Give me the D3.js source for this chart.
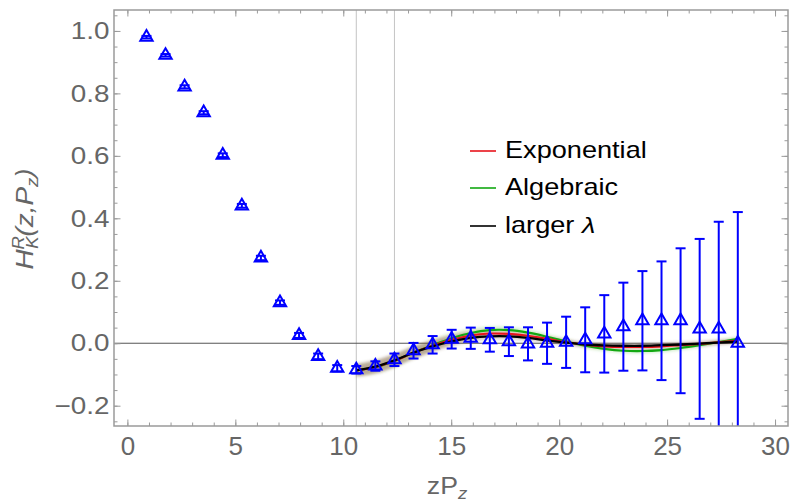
<!DOCTYPE html>
<html>
<head>
<meta charset="utf-8">
<script src="https://cdn.jsdelivr.net/npm/d3@7"></script>
<style>
  html, body { margin: 0; padding: 0; background: #fff; }
  svg { display: block; font-family: "Liberation Sans", Arial, sans-serif; }
</style>
</head>
<body>
<svg id="chart" width="792" height="502"></svg>
<script>
// Lattice points: zP_z for z = 1..32
const zp = [0.884, 1.767, 2.651, 3.534, 4.418, 5.302, 6.185, 7.069, 7.952, 8.836,
            9.720, 10.603, 11.487, 12.370, 13.254, 14.138, 15.021, 15.905, 16.788, 17.672,
            18.556, 19.439, 20.323, 21.206, 22.090, 22.974, 23.857, 24.741, 25.624, 26.508,
            27.392, 28.275];
const hVal = [0.980, 0.922, 0.821, 0.738, 0.602, 0.440, 0.273, 0.130, 0.025, -0.042,
              -0.080, -0.085, -0.073, -0.053, -0.024, -0.005, 0.013, 0.016, 0.011, 0.005,
              -0.002, 0.000, 0.003, 0.011, 0.030, 0.053, 0.072, 0.072, 0.072, 0.046,
              0.046, 0.000];
const hErr = [0.004, 0.004, 0.005, 0.005, 0.006, 0.006, 0.007, 0.007, 0.008, 0.009,
              0.010, 0.012, 0.015, 0.020, 0.025, 0.028, 0.030, 0.034, 0.038, 0.046,
              0.053, 0.066, 0.082, 0.104, 0.124, 0.141, 0.159, 0.190, 0.232, 0.288,
              0.343, 0.420];

// Extrapolated curves, sampled on the lattice points from z = 12 on
const fitX = zp.slice(11);
const expCurve = [-0.087, -0.076, -0.056, -0.030, -0.008, 0.011, 0.025, 0.031, 0.030, 0.024,
                  0.014, 0.003, -0.005, -0.010, -0.012, -0.012, -0.010, -0.006, -0.002, 0.003, 0.008];
const algCurve = [-0.087, -0.077, -0.057, -0.030, -0.006, 0.016, 0.033, 0.042, 0.042, 0.034,
                  0.021, 0.006, -0.008, -0.018, -0.024, -0.025, -0.022, -0.015, -0.006, 0.004, 0.014];
const lamCurve = [-0.087, -0.075, -0.055, -0.030, -0.010, 0.006, 0.017, 0.022, 0.022, 0.017,
                  0.009, 0.002, -0.004, -0.007, -0.008, -0.008, -0.006, -0.004, -0.001, 0.002, 0.005];
const bandHalf = [0.020, 0.021, 0.021, 0.020, 0.019, 0.016, 0.013, 0.011, 0.010, 0.009,
                  0.008, 0.008, 0.007, 0.007, 0.007, 0.007, 0.007, 0.007, 0.007, 0.007, 0.007];

// Fit-window boundaries
const windowLines = [10.603, 12.370];

const xMajor = [0, 5, 10, 15, 20, 25, 30];
const xMinor = d3.range(0, 31, 1);
const yMajor = [-0.2, 0, 0.2, 0.4, 0.6, 0.8, 1.0];
const yMinor = d3.range(-0.25, 1.051, 0.05).map(v => +v.toFixed(2));

const legendNames = ["Exponential", "Algebraic", "larger λ"];
const legendColors = ["#e8141c", "#12a812", "#000000"];

const plot = { left: 114, top: 10, right: 788, bottom: 426 };
const textStretch = 1.16;

const svg = d3.select("#chart");
const x = d3.scaleLinear().domain([-0.62, 30.6]).range([plot.left, plot.right]);
const y = d3.scaleLinear().domain([-0.265, 1.067]).range([plot.bottom, plot.top]);

const defs = svg.append("defs");
defs.append("clipPath").attr("id", "clip")
  .append("rect").attr("x", plot.left).attr("y", plot.top)
  .attr("width", plot.right - plot.left).attr("height", plot.bottom - plot.top);
defs.append("filter").attr("id", "soft").attr("x", "-5%").attr("y", "-50%")
  .attr("width", "110%").attr("height", "200%")
  .append("feGaussianBlur").attr("stdDeviation", 1.5);

const gPlot = svg.append("g").attr("clip-path", "url(#clip)");

// window lines
gPlot.selectAll("line.win").data(windowLines).join("line")
  .attr("x1", d => x(d)).attr("x2", d => x(d))
  .attr("y1", plot.top).attr("y2", plot.bottom)
  .attr("stroke", "#c4c4c4").attr("stroke-width", 1);

// zero line
gPlot.append("line")
  .attr("x1", plot.left).attr("x2", plot.right)
  .attr("y1", y(0)).attr("y2", y(0))
  .attr("stroke", "#555").attr("stroke-width", 1);

// bands
const curves = [
  { vals: algCurve, color: legendColors[1], op: 0.2 },
  { vals: expCurve, color: legendColors[0], op: 0.2 },
  { vals: lamCurve, color: "#6b6b55", op: 0.28 }
];
const band = d3.area().curve(d3.curveCatmullRom)
  .x((d, i) => x(fitX[i]))
  .y0(d => y(d.v - d.h)).y1(d => y(d.v + d.h));
const gBand = gPlot.append("g").attr("filter", "url(#soft)");
curves.forEach(c => {
  gBand.append("path")
    .datum(c.vals.map((v, i) => ({ v, h: bandHalf[i] })))
    .attr("d", band)
    .attr("fill", c.color).attr("fill-opacity", c.op);
});

const line = d3.line().curve(d3.curveCatmullRom)
  .x((d, i) => x(fitX[i])).y(d => y(d));
[algCurve, expCurve, lamCurve].forEach((vals, k) => {
  const color = [legendColors[1], legendColors[0], legendColors[2]][k];
  gPlot.append("path").datum(vals).attr("d", line)
    .attr("fill", "none").attr("stroke", color)
    .attr("stroke-width", k === 2 ? 2.3 : 2.1);
});

// data with error bars
const pts = zp.map((d, i) => ({ x: d, v: hVal[i], e: hErr[i] }));
const gPts = gPlot.append("g").attr("stroke", "#0000ff").attr("stroke-width", 2).attr("fill", "none");
const cap = 5;
pts.forEach(p => {
  const cx = x(p.x), yl = y(p.v - p.e), yh = y(p.v + p.e);
  gPts.append("line").attr("x1", cx).attr("x2", cx).attr("y1", yl).attr("y2", yh);
  gPts.append("line").attr("x1", cx - cap).attr("x2", cx + cap).attr("y1", yl).attr("y2", yl);
  gPts.append("line").attr("x1", cx - cap).attr("x2", cx + cap).attr("y1", yh).attr("y2", yh);
});
const tri = d3.symbol().type(d3.symbolTriangle).size(66);
gPts.selectAll("path.tri").data(pts).join("path")
  .attr("class", "tri")
  .attr("transform", d => `translate(${x(d.x)},${y(d.v)})`)
  .attr("d", tri)
  .attr("fill", "none").attr("stroke-width", 2);

// frame and ticks
const axisColor = "#9a9a9a";
function styleAxis(g) {
  g.select(".domain").remove();
  g.selectAll(".tick line").attr("stroke", axisColor).attr("stroke-width", 1);
  g.selectAll("text").attr("fill", "#666").attr("font-family", "Liberation Sans, Arial, sans-serif");
}
svg.append("g").attr("transform", `translate(0,${plot.bottom})`)
  .call(d3.axisBottom(x).tickValues(xMinor).tickSize(-3.5).tickFormat("")).call(styleAxis);
svg.append("g").attr("transform", `translate(0,${plot.bottom})`)
  .call(d3.axisBottom(x).tickValues(xMajor).tickSize(-6.5).tickPadding(11).tickFormat(d3.format("d")))
  .call(styleAxis)
  .selectAll("text").attr("font-size", 26);
svg.append("g").attr("transform", `translate(0,${plot.top})`)
  .call(d3.axisTop(x).tickValues(xMinor).tickSize(-3.5).tickFormat("")).call(styleAxis);
svg.append("g").attr("transform", `translate(0,${plot.top})`)
  .call(d3.axisTop(x).tickValues(xMajor).tickSize(-6.5).tickFormat("")).call(styleAxis);

svg.append("g").attr("transform", `translate(${plot.left},0)`)
  .call(d3.axisLeft(y).tickValues(yMinor).tickSize(-3.5).tickFormat("")).call(styleAxis);
svg.append("g").attr("transform", `translate(${plot.left},0)`)
  .call(d3.axisLeft(y).tickValues(yMajor).tickSize(-6.5).tickPadding(4).tickFormat(d3.format(".1f")))
  .call(styleAxis)
  .selectAll("text").attr("font-size", 24).attr("transform", `scale(${textStretch},1)`);
svg.append("g").attr("transform", `translate(${plot.right},0)`)
  .call(d3.axisRight(y).tickValues(yMinor).tickSize(-3.5).tickFormat("")).call(styleAxis);
svg.append("g").attr("transform", `translate(${plot.right},0)`)
  .call(d3.axisRight(y).tickValues(yMajor).tickSize(-6.5).tickFormat("")).call(styleAxis);

svg.append("rect")
  .attr("x", plot.left).attr("y", plot.top)
  .attr("width", plot.right - plot.left).attr("height", plot.bottom - plot.top)
  .attr("fill", "none").attr("stroke", axisColor).attr("stroke-width", 1.5);

// axis titles
const xt = svg.append("text")
  .attr("transform", `translate(447,494) scale(${textStretch},1)`).attr("text-anchor", "middle")
  .attr("font-size", 23).attr("fill", "#666");
xt.append("tspan").text("zP");
xt.append("tspan").attr("dy", 5).attr("font-size", 16).attr("font-style", "italic").text("z");

const yt = svg.append("text")
  .attr("transform", `translate(33,219) rotate(-90) scale(${textStretch},1)`)
  .attr("text-anchor", "middle")
  .attr("font-size", 24).attr("font-style", "italic").attr("fill", "#666");
yt.append("tspan").text("H");
yt.append("tspan").attr("dy", -9).attr("font-size", 16).text("R");
yt.append("tspan").attr("dx", -11).attr("dy", 14).attr("font-size", 16).text("K");
yt.append("tspan").attr("dy", -5).text("(z,P");
yt.append("tspan").attr("dy", 5).attr("font-size", 16).text("z");
yt.append("tspan").attr("dy", -5).text(")");

// legend
const legendY = [151, 188, 226];
const gLeg = svg.append("g");
legendNames.forEach((name, i) => {
  gLeg.append("line")
    .attr("x1", 470).attr("x2", 496).attr("y1", legendY[i]).attr("y2", legendY[i])
    .attr("stroke", legendColors[i]).attr("stroke-width", 1.6);
  const t = gLeg.append("text")
    .attr("transform", `translate(505,${legendY[i] + 7}) scale(${textStretch + 0.02},1)`)
    .attr("font-size", 23).attr("fill", "#000");
  if (name.endsWith("λ")) {
    t.append("tspan").text("larger ");
    t.append("tspan").attr("font-style", "italic").text("λ");
  } else {
    t.text(name);
  }
});
</script>
</body>
</html>
